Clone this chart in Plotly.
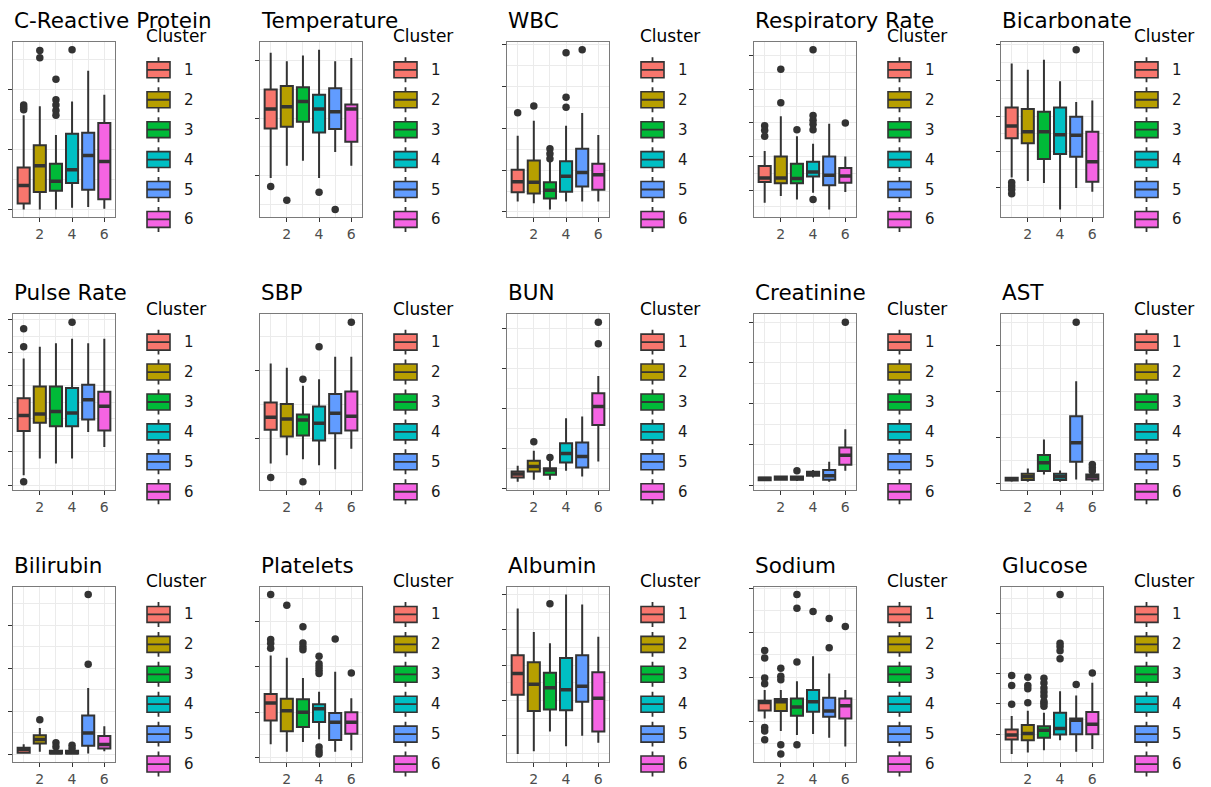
import plotly.graph_objects as go

FIG_W, FIG_H = 1211, 787
CLUSTERS = [1, 2, 3, 4, 5, 6]
CLUSTER_COLORS = ["#F8766D", "#B79F00", "#00BA38", "#00BFC4", "#619CFF", "#F564E3"]
EDGE = "#333333"

TITLES = ["C-Reactive Protein", "Temperature", "WBC", "Respiratory Rate", "Bicarbonate",
          "Pulse Rate", "SBP", "BUN", "Creatinine", "AST",
          "Bilirubin", "Platelets", "Albumin", "Sodium", "Glucose"]

# Each row: [lower whisker, Q1, median, Q3, upper whisker] for clusters 1..6
crp_box = [[0, 10, 40, 70, 157], [0, 29, 73, 107, 172], [0, 31, 47, 76, 124],
           [3, 44, 66, 126, 180], [4, 33, 90, 128, 231], [1, 17, 80, 144, 191]]
crp_out = [[174, 170, 166], [265, 253], [217, 183, 174, 165, 157], [266], [], []]

temp_box = [[36.96, 37.82, 38.16, 38.50, 39.14], [37.17, 37.85, 38.20, 38.56, 38.99],
            [37.26, 37.94, 38.29, 38.54, 39.09], [36.96, 37.75, 38.16, 38.41, 39.19],
            [37.41, 37.81, 38.11, 38.52, 38.99], [37.17, 37.59, 38.16, 38.24, 39.05]]
temp_out = [[36.81], [36.57], [], [36.71], [36.41], []]

wbc_box = [[2.5, 4.7, 7.2, 10.1, 18.2], [2.1, 4.4, 7.1, 12.3, 21.8], [0.6, 3.2, 5.2, 7.1, 12.1],
           [2.5, 4.8, 8.5, 12.1, 20.6], [2.5, 6.1, 9.4, 15.1, 23.6], [2.5, 5.3, 8.9, 11.5, 18.4]]
wbc_out = [[23.7], [25.3], [15.1, 13.9, 12.7], [38.0, 27.4, 25.0], [38.7], []]

resp_box = [[13.1, 16.2, 16.8, 18.6, 20.8], [14.1, 16.0, 16.8, 20.0, 26.0], [13.6, 16.0, 16.7, 18.9, 23.0],
            [14.6, 17.0, 17.7, 19.2, 21.9], [12.1, 15.7, 17.2, 20.0, 24.9], [14.7, 16.1, 17.1, 18.3, 20.0]]
resp_out = [[24.6, 23.9, 23.0], [33.0, 28.0], [24.0], [35.9, 26.1, 25.4, 24.8, 24.0, 13.6], [], [25.0]]

bicarb_box = [[11.4, 16.9, 18.6, 21.2, 27.4], [10.9, 16.2, 17.8, 21.0, 26.5], [10.6, 14.0, 17.8, 20.6, 27.9],
              [6.9, 14.7, 17.4, 21.2, 24.9], [9.9, 14.3, 17.3, 19.9, 22.0], [9.4, 10.8, 13.6, 17.8, 22.2]]
bicarb_out = [[10.7, 10.2, 9.7, 9.1], [], [], [], [29.3], []]

pulse_box = [[66, 92.6, 102, 112.4, 136.4], [76, 97.6, 103, 119.6, 143.6], [73, 95.6, 104.4, 119.6, 145.6],
             [76, 95.6, 103.6, 118.6, 148.4], [92, 99.6, 111.6, 120.6, 145.6], [83, 93, 107.6, 116.4, 148.4]]
pulse_out = [[154.4, 143.6, 62], [], [], [158.4], [], []]

sbp_box = [[81.7, 106.6, 115.9, 126.8, 155.4], [87.8, 101.7, 114.6, 125.6, 152.4], [84.9, 102.4, 113.9, 117.8, 139.0],
           [80.5, 98.8, 111.5, 123.7, 143.9], [77.6, 104.1, 118.8, 132.9, 160.5], [92.7, 106.1, 116.6, 134.9, 160.5]]
sbp_out = [[71.5], [], [143.9, 68.3], [167.8], [], [185.9]]

bun_box = [[7.9, 13.3, 17.5, 20.8, 27.9], [10.4, 20.8, 27.1, 34.2, 46.7], [10.4, 16.7, 22.5, 25.0, 34.2],
           [21.7, 32.1, 43.3, 56.3, 87.5], [14.6, 25.8, 39.6, 57.1, 89.6], [33.3, 79.2, 102.1, 118.8, 140.4]]
bun_out = [[], [57.9], [38.3], [], [], [207.9, 180.8]]

creat_box = [[0.49, 0.61, 0.82, 0.94, 1.06], [0.53, 0.65, 0.90, 1.06, 1.14], [0.49, 0.65, 0.82, 1.06, 1.14],
             [0.94, 1.14, 1.43, 1.63, 1.84], [0.41, 0.65, 1.14, 1.84, 2.86], [1.76, 2.49, 3.67, 4.61, 6.86]]
creat_out = [[], [], [1.76], [], [], [20.0]]

ast_box = [[22, 36, 54, 65, 76], [22, 40, 76, 109, 167], [101, 138, 228, 312, 482],
           [22, 40, 76, 109, 145], [47, 239, 446, 735, 1116], [22, 47, 76, 101, 112]]
ast_out = [[], [], [], [], [1757], [210, 174, 138]]

bili_box = [[0.12, 0.19, 0.58, 0.77, 1.19], [0.31, 1.27, 1.73, 2.23, 3.08], [0.04, 0.12, 0.19, 0.42, 0.62],
            [0.04, 0.12, 0.19, 0.42, 0.62], [0.12, 1.0, 2.5, 4.54, 7.73], [0.38, 0.69, 1.15, 2.15, 3.27]]
bili_out = [[], [4.04], [1.35, 0.9], [1.08, 0.69], [18.6, 10.5], []]

plt_box = [[58, 163, 240, 280, 450], [25, 116, 206, 259, 440], [68, 135, 200, 257, 351],
           [80, 157, 215, 235, 290], [25, 77, 155, 196, 378], [32, 105, 155, 200, 261]]
plt_out = [[719, 520, 504, 482], [671], [577, 505, 489, 475],
           [447, 414, 399, 385, 370, 46, 29, 15], [523], [373]]

alb_box = [[1.24, 2.08, 2.38, 2.64, 3.30], [1.28, 1.85, 2.23, 2.54, 2.97], [1.56, 1.87, 2.18, 2.39, 2.81],
           [1.35, 1.86, 2.15, 2.60, 3.50], [1.50, 1.98, 2.20, 2.64, 3.36], [1.40, 1.56, 2.03, 2.40, 2.90]]
alb_out = [[], [], [3.37], [], [], []]

na_box = [[130.7, 132.5, 134.3, 134.7, 137.1], [127.9, 132.4, 134.5, 135.1, 137.1], [127.0, 131.3, 133.3, 135.2, 139.1],
          [127.2, 132.2, 134.5, 137.1, 144.7], [126.4, 131.1, 132.4, 135.4, 140.8], [124.4, 130.7, 133.6, 135.2, 137.1]]
na_out = [[146.0, 144.3, 139.8, 138.5, 128.7, 127.9, 125.9], [142.0, 140.2, 139.4, 124.8, 122.7],
          [158.6, 155.5, 143.4, 124.8], [154.8], [153.2, 146.6], [151.4]]

glu_box = [[34, 82, 97, 115, 160], [39, 80, 102, 130, 177], [47, 88, 113, 126, 171],
           [80, 99, 119, 171, 242], [42, 100, 146, 152, 228], [51, 100, 133, 173, 270]]
glu_out = [[294, 261, 199], [288, 261, 250, 204], [285, 269, 253, 239, 226, 208, 201, 192],
           [562, 401, 390, 376, 349], [264], [302]]

BOXES = [crp_box, temp_box, wbc_box, resp_box, bicarb_box, pulse_box, sbp_box, bun_box,
         creat_box, ast_box, bili_box, plt_box, alb_box, na_box, glu_box]
OUTLIERS = [crp_out, temp_out, wbc_out, resp_out, bicarb_out, pulse_out, sbp_out, bun_out,
            creat_out, ast_out, bili_out, plt_out, alb_out, na_out, glu_out]
Y_TICK0 = [0, 37, 0, 15, 10, 60, 100, 0, 0, 0, 0, 0, 1.5, 130, 100]
Y_DTICK = [100, 1, 10, 5, 5, 20, 50, 50, 5, 500, 5, 200, 0.5, 10, 100]

# layout (pixels)
PANEL_LEFT = [13, 260, 507, 754, 1001]
PANEL_TOP = [42, 315, 588]
PW, PH = 102, 176
BOX_W = 0.75
FONT = "DejaVu Sans"


def px(x):
    return x / FIG_W


def py(y):
    return 1 - y / FIG_H


fig = go.Figure()
layout = {}
shapes = []
annotations = []

for i, (box, out) in enumerate(zip(BOXES, OUTLIERS)):
    r, c = divmod(i, 5)
    L, T = PANEL_LEFT[c], PANEL_TOP[r]
    sfx = "" if i == 0 else str(i + 1)
    xr, yr = "x" + sfx, "y" + sfx

    for k, cl in enumerate(CLUSTERS):
        lw, q1, med, q3, uw = box[k]
        fig.add_trace(go.Box(
            x=[cl], q1=[q1], median=[med], q3=[q3], lowerfence=[lw], upperfence=[uw],
            fillcolor=CLUSTER_COLORS[k], line=dict(color=EDGE, width=2),
            whiskerwidth=0, width=BOX_W, boxpoints=False, xaxis=xr, yaxis=yr,
            showlegend=False, hoverinfo="skip", name=str(cl)))

    mx, my = [], []
    for k, cl in enumerate(CLUSTERS):
        med = box[k][2]
        mx += [cl - BOX_W / 2, cl + BOX_W / 2, None]
        my += [med, med, None]
    fig.add_trace(go.Scatter(x=mx, y=my, mode="lines", line=dict(color=EDGE, width=3.5),
                             xaxis=xr, yaxis=yr, showlegend=False, hoverinfo="skip"))

    ox, oy = [], []
    for k, cl in enumerate(CLUSTERS):
        for v in out[k]:
            ox.append(cl)
            oy.append(v)
    fig.add_trace(go.Scatter(x=ox, y=oy, mode="markers", marker=dict(color=EDGE, size=7.5),
                             xaxis=xr, yaxis=yr, showlegend=False, hoverinfo="skip"))

    vals = [v for row in box for v in row] + [v for o in out for v in o]
    lo, hi = min(vals), max(vals)
    pad = 0.05 * (hi - lo)

    common = dict(showline=True, mirror=True, linecolor="#7a7a7a", linewidth=1,
                  ticks="outside", ticklen=4, tickwidth=1, tickcolor=EDGE,
                  showgrid=True, gridcolor="#EBEBEB", gridwidth=1, zeroline=False)
    x_lo, x_hi = 1 - BOX_W / 2, 6 + BOX_W / 2
    x_pad = 0.05 * (x_hi - x_lo)
    layout["xaxis" + sfx] = dict(
        domain=[px(L), px(L + PW)], anchor=yr, range=[x_lo - x_pad, x_hi + x_pad],
        tickmode="linear", tick0=0, dtick=2,
        tickfont=dict(family=FONT, size=14, color="#4D4D4D"),
        minor=dict(dtick=1, tick0=0, showgrid=True, gridcolor="#EBEBEB", gridwidth=0.6, ticks=""),
        **common)
    layout["yaxis" + sfx] = dict(
        domain=[py(T + PH), py(T)], anchor=xr, range=[lo - pad, hi + pad],
        tickmode="linear", tick0=Y_TICK0[i], dtick=Y_DTICK[i], showticklabels=False,
        minor=dict(dtick=Y_DTICK[i] / 2, tick0=Y_TICK0[i], showgrid=True, gridcolor="#EBEBEB",
                   gridwidth=0.6, ticks=""),
        **common)

    # panel title
    annotations.append(dict(text=TITLES[i], x=px(L - 1), y=py(T - 21.5), xref="paper", yref="paper",
                            xanchor="left", yanchor="middle", showarrow=False,
                            font=dict(family=FONT, size=21.5, color="#000000")))
    # legend title
    annotations.append(dict(text="Cluster", x=px(L + 131), y=py(T - 5.5), xref="paper", yref="paper",
                            xanchor="left", yanchor="middle", showarrow=False,
                            font=dict(family=FONT, size=17, color="#000000")))
    # legend keys
    for k, cl in enumerate(CLUSTERS):
        cy = T + 28 + 30 * k
        x0, x1 = L + 134, L + 157
        xc = (x0 + x1) / 2
        shapes.append(dict(type="rect", xref="paper", yref="paper",
                           x0=px(x0), x1=px(x1), y0=py(cy + 8), y1=py(cy - 8),
                           fillcolor=CLUSTER_COLORS[k], line=dict(color=EDGE, width=1.6)))
        path = (f"M {px(x0)},{py(cy)} L {px(x1)},{py(cy)} "
                f"M {px(xc)},{py(cy - 8)} L {px(xc)},{py(cy - 12.5)} "
                f"M {px(xc)},{py(cy + 8)} L {px(xc)},{py(cy + 12.5)}")
        shapes.append(dict(type="path", xref="paper", yref="paper", path=path,
                           line=dict(color=EDGE, width=1.8)))
        annotations.append(dict(text=str(cl), x=px(L + 169), y=py(cy), xref="paper", yref="paper",
                                xanchor="left", yanchor="middle", showarrow=False,
                                font=dict(family=FONT, size=15, color="#1A1A1A")))

fig.update_layout(
    width=FIG_W, height=FIG_H, margin=dict(l=0, r=0, t=0, b=0),
    paper_bgcolor="white", plot_bgcolor="white", showlegend=False,
    font=dict(family=FONT), shapes=shapes, annotations=annotations, **layout)

fig.write_html("out.html")
